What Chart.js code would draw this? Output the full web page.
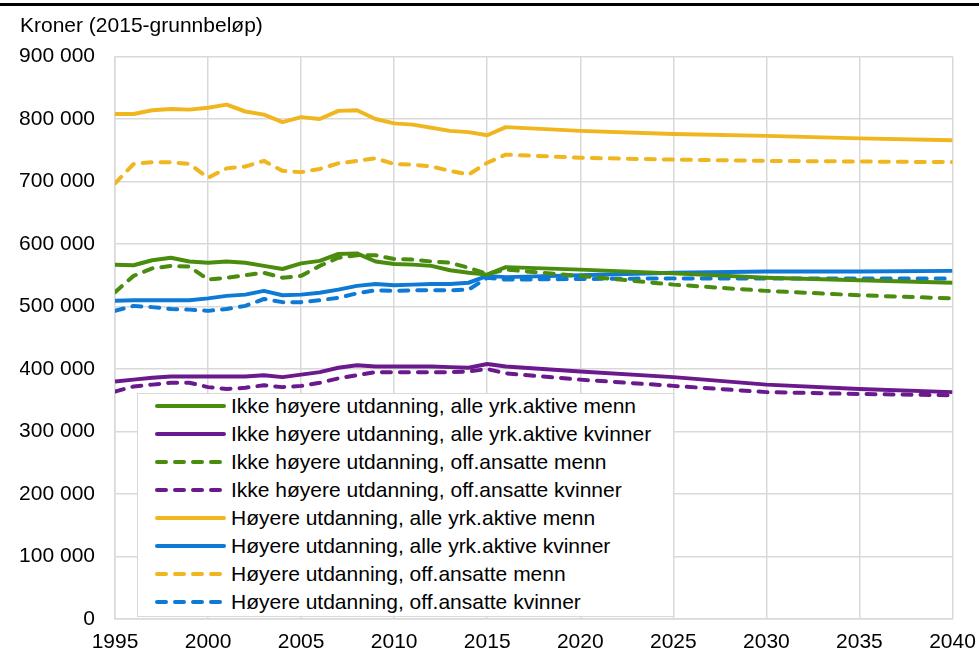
<!DOCTYPE html>
<html>
<head>
<meta charset="utf-8">
<script src="https://cdn.jsdelivr.net/npm/chart.js@4.4.1/dist/chart.umd.min.js"></script>
<style>
  body { margin: 0; background: #fff; font-family: "Liberation Sans", Arial, sans-serif; }
  #wrap { position: relative; width: 979px; height: 653px; }
  #topline { position: absolute; left: 0; top: 3px; width: 979px; height: 3px; background: #000; }
  #legend { position: absolute; left: 137px; top: 393px; width: 535px; height: 222px; background: #fff; border: 1.5px solid #d9d9d9; }
  .row { position: absolute; left: 0; height: 28px; display: flex; align-items: center; font-size: 21px; color: #000; white-space: nowrap; }
  .row svg { margin-left: 16.5px; margin-right: 5.5px; }
</style>
</head>
<body>
<div id="wrap">
  <canvas id="chart" width="979" height="653"></canvas>
  <div id="topline"></div>
  <div id="legend"></div>
</div>
<script>
// Data
const years = [1995, 1996, 1997, 1998, 1999, 2000, 2001, 2002, 2003, 2004, 2005, 2006, 2007, 2008,
  2009, 2010, 2011, 2012, 2013, 2014, 2015, 2016, 2020, 2025, 2030, 2035, 2040];

const ikkeAlleMenn = [567000, 566000, 574000, 578000, 572000, 570000, 572000, 570000, 565000, 560000, 569000, 573000, 584000, 585000,
  572000, 568000, 567000, 565000, 558000, 554000, 551000, 563000, 559000, 553000, 546000, 542000, 538000];
const ikkeAlleKvinner = [380000, 383000, 386000, 388000, 388000, 388000, 388000, 388000, 390000, 387000, 391000, 395000, 402000, 406000,
  404000, 404000, 404000, 404000, 403000, 402000, 408000, 404000, 396000, 387000, 375000, 368000, 363000];
const ikkeOffMenn = [523000, 549000, 561000, 565000, 564000, 543000, 546000, 550000, 554000, 546000, 549000, 565000, 578000, 582000,
  582000, 576000, 575000, 572000, 570000, 562000, 552000, 559000, 549000, 535000, 525000, 518000, 513000];
const ikkeOffKvinner = [364000, 372000, 375000, 378000, 378000, 371000, 368000, 370000, 374000, 371000, 373000, 378000, 385000, 390000,
  395000, 395000, 395000, 395000, 395000, 396000, 400000, 393000, 383000, 373000, 363000, 360000, 358000];
const hoyAlleMenn = [808000, 808000, 814000, 816000, 815000, 818000, 823000, 812000, 807000, 795000, 803000, 800000, 813000, 814000,
  800000, 793000, 791000, 786000, 781000, 779000, 774000, 787000, 781000, 776000, 773000, 769000, 766000];
const hoyAlleKvinner = [509000, 510000, 510000, 510000, 510000, 513000, 517000, 519000, 525000, 518000, 519000, 522000, 527000, 533000,
  536000, 534000, 535000, 536000, 536000, 538000, 549000, 547000, 550000, 554000, 556000, 556000, 557000];
const hoyOffMenn = [697000, 728000, 731000, 731000, 728000, 706000, 721000, 724000, 733000, 717000, 715000, 720000, 729000, 733000,
  737000, 728000, 727000, 724000, 717000, 711000, 730000, 743000, 738000, 735000, 733000, 732000, 731000];
const hoyOffKvinner = [493000, 501000, 499000, 496000, 495000, 493000, 496000, 501000, 512000, 507000, 507000, 510000, 514000, 521000,
  526000, 525000, 526000, 526000, 526000, 527000, 546000, 543000, 544000, 545000, 545000, 545000, 545000];

const GREEN = '#4a8c0e';
const PURPLE = '#6b1a8e';
const YELLOW = '#f0b620';
const BLUE = '#0e7ad6';
const GRID = '#d9d9d9';
const FONT = { family: '"Liberation Sans", Arial, sans-serif', size: 21 };

function series(label, values, color, dashed) {
  return {
    label,
    data: values.map((v, i) => ({ x: years[i], y: v })),
    borderColor: color,
    backgroundColor: color,
    borderWidth: 4,
    borderDash: dashed ? [9, 9] : [],
    borderCapStyle: dashed ? 'round' : 'butt',
    borderJoinStyle: 'round',
    pointRadius: 0,
    tension: 0,
    fill: false,
  };
}

const datasets = [
  series('Ikke høyere utdanning, alle yrk.aktive menn', ikkeAlleMenn, GREEN, false),
  series('Ikke høyere utdanning, alle yrk.aktive kvinner', ikkeAlleKvinner, PURPLE, false),
  series('Ikke høyere utdanning, off.ansatte menn', ikkeOffMenn, GREEN, true),
  series('Ikke høyere utdanning, off.ansatte kvinner', ikkeOffKvinner, PURPLE, true),
  series('Høyere utdanning, alle yrk.aktive menn', hoyAlleMenn, YELLOW, false),
  series('Høyere utdanning, alle yrk.aktive kvinner', hoyAlleKvinner, BLUE, false),
  series('Høyere utdanning, off.ansatte menn', hoyOffMenn, YELLOW, true),
  series('Høyere utdanning, off.ansatte kvinner', hoyOffKvinner, BLUE, true),
];

const fmt = v => v === 0 ? '0' : String(v).replace(/\B(?=(\d{3})+(?!\d))/g, ' ');

const chart = new Chart(document.getElementById('chart'), {
  type: 'line',
  data: { datasets },
  options: {
    responsive: false,
    animation: false,
    layout: { padding: { left: 20, right: 26.5, top: 0, bottom: 0 } },
    plugins: {
      legend: { display: false },
      tooltip: { enabled: false },
      title: {
        display: true,
        text: 'Kroner (2015-grunnbeløp)',
        align: 'start',
        color: '#000',
        font: { ...FONT, weight: 'normal' },
        padding: { top: 14, bottom: 17.3 },
      },
    },
    scales: {
      x: {
        type: 'linear',
        min: 1995, max: 2040,
        ticks: { stepSize: 5, color: '#000', font: FONT, padding: 11, maxRotation: 0, callback: v => String(v) },
        grid: { color: GRID, lineWidth: 1.5, drawTicks: false },
        border: { color: GRID, width: 1.5 },
        afterFit: s => { s.height = 34; s.paddingLeft = 0; s.paddingRight = 0; },
      },
      y: {
        min: 0, max: 900000,
        ticks: { stepSize: 100000, color: '#000', font: FONT, padding: 20, callback: fmt },
        grid: { color: GRID, lineWidth: 1.5, drawTicks: false },
        border: { color: GRID, width: 1.5 },
        afterFit: s => { s.width = 95; s.paddingTop = 0; s.paddingBottom = 0; },
      },
    },
  },
});

// Legend box inside the plot
const legend = document.getElementById('legend');
chart.data.datasets.forEach((ds, i) => {
  const row = document.createElement('div');
  row.className = 'row';
  row.style.top = (-2.2 + 28 * i) + 'px';
  const dash = ds.borderDash.length ? ` stroke-dasharray="${ds.borderDash.join(' ')}" stroke-linecap="round"` : ' stroke-linecap="round"';
  row.innerHTML = `<svg width="71" height="6"><line x1="2" y1="3" x2="69" y2="3" stroke="${ds.borderColor}" stroke-width="4"${dash}/></svg><span>${ds.label}</span>`;
  legend.appendChild(row);
});
</script>
</body>
</html>
